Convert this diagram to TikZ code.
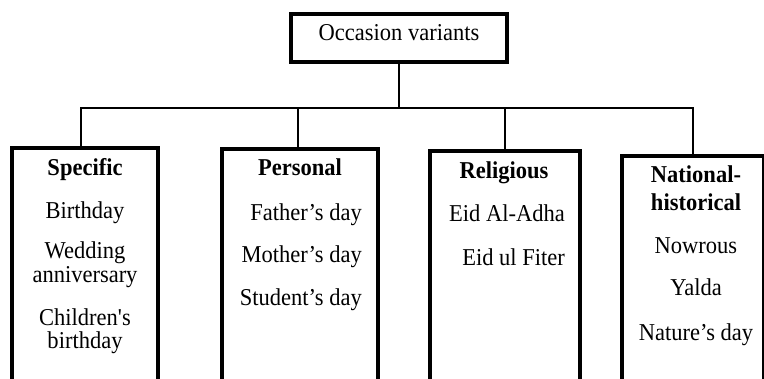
\documentclass[tikz,border=0pt]{standalone}
\usepackage{fontspec}
\setmainfont[FakeStretch=0.93]{Liberation Serif}
\usetikzlibrary{positioning}

\tikzset{
  catbox/.style={draw, line width=4pt, inner sep=0pt, anchor=north},
  item/.style={anchor=base, inner sep=0pt, font=\fontsize{24.2}{26}\selectfont},
  head/.style={item, font=\fontsize{24.2}{26}\selectfont\bfseries},
  link/.style={line width=1.3pt},
}

\begin{document}
\begin{tikzpicture}[x=1pt,y=-1pt]
\clip (0,0) rectangle (764,378);
% boxes
\node[catbox, minimum width=216pt, minimum height=48pt] (top) at (399,12) {};
\node[item] (toptext) at (399,40) {Occasion variants};
\node[catbox, minimum width=146pt, minimum height=300pt] (spec) at (85,146) {};
\node[catbox, minimum width=156pt, minimum height=300pt] (pers) at (300,147) {};
\node[catbox, minimum width=150pt, minimum height=300pt] (relig) at (505,149) {};
\node[catbox, minimum width=142pt, minimum height=300pt] (natl) at (693,154) {};
% connectors
\coordinate (bus) at (399,108);
\draw[link] (top.south) -- (bus);
\draw[link] ([xshift=-4pt]spec.north) |- (bus) -| (natl.north);
\draw[link] ([xshift=-2pt]pers.north) -- ([xshift=-2pt]pers.north |- bus);
\draw[link] (relig.north) -- (relig.north |- bus);
% specific
\node[head] (spechead) at (85,175) {Specific};
\node[item] (birth) at (85,218) {Birthday};
\node[item] (wed) at (85,258) {Wedding};
\node[item] (anniv) at (85,282) {anniversary};
\node[item] (child) at (85,325) {Children\textquotesingle s};
\node[item] (childb) at (85,348) {birthday};
% personal
\node[head] (pershead) at (300,175) {Personal};
\node[item, anchor=base east] (father) at (362,220) {Father’s day};
\node[item, anchor=base east] (mother) at (362,262) {Mother’s day};
\node[item, anchor=base east] (student) at (362,305) {Student’s day};
% religious
\node[head] (relighead) at (504,178) {Religious};
\node[item, anchor=base east] (adha) at (565,221) {Eid Al-Adha};
\node[item, anchor=base east] (fiter) at (565,265) {Eid ul Fiter};
% national-historical
\node[head] (natlhead) at (696,182) {National-};
\node[head] (natlhead2) at (696,210) {historical};
\node[item] (nowrous) at (696,253) {Nowrous};
\node[item] (yalda) at (696,295) {Yalda};
\node[item] (nature) at (696,340) {Nature’s day};
\end{tikzpicture}
\end{document}
